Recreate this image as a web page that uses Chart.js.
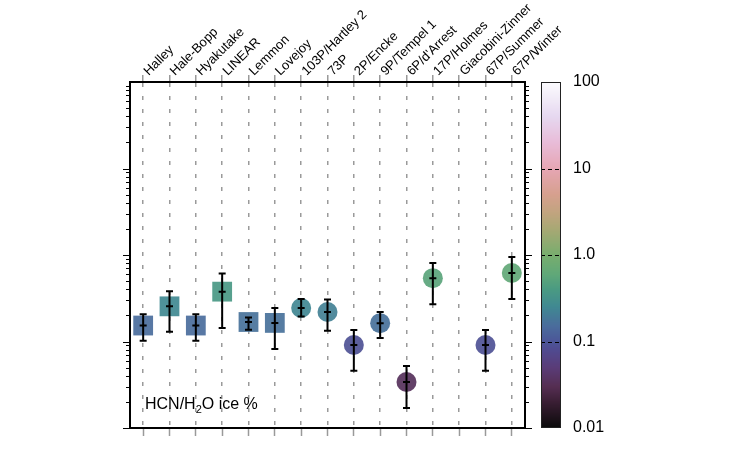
<!DOCTYPE html>
<html>
<head>
<meta charset="utf-8">
<script src="https://cdn.jsdelivr.net/npm/chart.js@4"></script>
<style>
  body { margin: 0; background: #fff; }
  #wrap { width: 750px; height: 450px; }
</style>
</head>
<body>
<div id="wrap"><canvas id="hcnChart" width="750" height="450"></canvas></div>
<script>
// comets along the top axis
const comets = ['Halley', 'Hale-Bopp', 'Hyakutake', 'LINEAR', 'Lemmon', 'Lovejoy',
    '103P/Hartley 2', '73P', '2P/Encke', '9P/Tempel 1', "6P/d'Arrest", '17P/Holmes',
    'Giacobini-Zinner', '67P/Summer', '67P/Winter'];
// HCN/H2O ice %, with lower / upper error bar ends
const hcn     = [0.153, 0.255, 0.153, 0.377, 0.168, 0.164, 0.244, 0.219, 0.091, 0.163, 0.034, 0.54, null, 0.091, 0.62];
const errLow  = [0.102, 0.130, 0.102, 0.143, 0.137, 0.082, 0.195, 0.133, 0.046, 0.110, 0.017, 0.27, null, 0.046, 0.31];
const errHigh = [0.206, 0.380, 0.206, 0.610, 0.190, 0.244, 0.310, 0.305, 0.136, 0.220, 0.052, 0.81, null, 0.136, 0.95];
// first six are long-period comets (squares), rest short-period (circles)
const shapes = ['rect', 'rect', 'rect', 'rect', 'rect', 'rect',
    'circle', 'circle', 'circle', 'circle', 'circle', 'circle', 'circle', 'circle', 'circle'];
// colour bar ticks
const cbarTicks = [0.01, 0.1, 1, 10, 100];
const cbarLabels = ['0.01', '0.1', '1.0', '10', '100'];

// cubehelix-like colour map, sampled by eye from the colour bar
const cmapStops = [
    [0.01, [10, 10, 10]], [0.02, [58, 30, 52]], [0.03, [85, 46, 82]], [0.05, [90, 60, 120]],
    [0.08, [80, 74, 144]], [0.1, [76, 86, 152]], [0.15, [74, 108, 156]], [0.25, [64, 136, 146]],
    [0.4, [74, 154, 130]], [0.6, [96, 168, 120]], [1, [120, 173, 110]], [2, [168, 168, 116]],
    [3, [192, 164, 126]], [5, [214, 160, 142]], [10, [230, 166, 180]], [20, [232, 188, 216]],
    [40, [230, 216, 240]], [100, [252, 252, 254]]
];
function cmap(v, alpha) {
    const lv = Math.log10(v);
    let c = cmapStops[cmapStops.length - 1][1];
    for (let i = 0; i < cmapStops.length - 1; i++) {
        const a = Math.log10(cmapStops[i][0]), b = Math.log10(cmapStops[i + 1][0]);
        if (lv <= b) {
            const t = Math.max(0, (lv - a) / (b - a));
            c = cmapStops[i][1].map((q, k) => Math.round(q + (cmapStops[i + 1][1][k] - q) * t));
            break;
        }
    }
    return alpha == null ? `rgb(${c[0]},${c[1]},${c[2]})` : `rgba(${c[0]},${c[1]},${c[2]},${alpha})`;
}

const FONT = "'Liberation Sans', Arial, Helvetica, sans-serif";

const extras = {
    id: 'extras',
    afterDatasetsDraw(chart) {
        const ctx = chart.ctx, x = chart.scales.x, y = chart.scales.y, area = chart.chartArea;
        ctx.save();
        // error bars
        ctx.strokeStyle = '#000';
        ctx.lineWidth = 2;
        hcn.forEach((v, i) => {
            if (v == null) return;
            const px = x.getPixelForValue(i);
            const yl = y.getPixelForValue(errLow[i]);
            const yh = y.getPixelForValue(errHigh[i]);
            const yc = y.getPixelForValue(v);
            ctx.beginPath();
            ctx.moveTo(px, yl); ctx.lineTo(px, yh);
            ctx.moveTo(px - 3.5, yl); ctx.lineTo(px + 3.5, yl);
            ctx.moveTo(px - 3.5, yh); ctx.lineTo(px + 3.5, yh);
            ctx.moveTo(px - 3.5, yc); ctx.lineTo(px + 3.5, yc);
            ctx.stroke();
        });
        // log tick marks on both y sides
        ctx.lineWidth = 1;
        for (let d = 0.01; d < 99; d *= 10) {
            for (let m = 1; m <= 9; m++) {
                const py = Math.round(y.getPixelForValue(d * m)) + 0.5;
                const len = m === 1 ? 7 : 4;
                ctx.beginPath();
                ctx.moveTo(area.left - len, py); ctx.lineTo(area.left, py);
                ctx.moveTo(area.right, py); ctx.lineTo(area.right + len, py);
                ctx.stroke();
            }
        }
        // in-plot label
        ctx.fillStyle = '#000';
        ctx.textBaseline = 'alphabetic';
        ctx.font = '16px ' + FONT;
        let tx = area.left + 15;
        const ty = y.getPixelForValue(0.0165);
        ctx.fillText('HCN/H', tx, ty);
        tx += ctx.measureText('HCN/H').width;
        ctx.font = '11px ' + FONT;
        ctx.fillText('2', tx, ty + 4);
        tx += ctx.measureText('2').width;
        ctx.font = '16px ' + FONT;
        ctx.fillText('O ice %', tx, ty);
        ctx.restore();
    },
    afterDraw(chart) {
        // colour bar
        const ctx = chart.ctx, y = chart.scales.yc;
        const x0 = 541, w = 20;
        const top = Math.round(y.getPixelForValue(100)), bot = Math.round(y.getPixelForValue(0.01));
        ctx.save();
        for (let py = top; py < bot; py++) {
            ctx.fillStyle = cmap(y.getValueForPixel(py + 0.5));
            ctx.fillRect(x0, py, w, 1);
        }
        ctx.strokeStyle = '#000';
        ctx.lineWidth = 1;
        ctx.setLineDash([4, 3]);
        [0.1, 1, 10].forEach(v => {
            const py = Math.round(y.getPixelForValue(v)) + 0.5;
            ctx.beginPath();
            ctx.moveTo(x0, py); ctx.lineTo(x0 + w, py);
            ctx.stroke();
        });
        ctx.setLineDash([]);
        ctx.strokeStyle = '#222';
        ctx.strokeRect(x0 + 0.5, top + 0.5, w - 1, bot - top - 1);
        ctx.restore();
    }
};

new Chart(document.getElementById('hcnChart'), {
    type: 'line',
    data: {
        labels: comets,
        datasets: [{
            data: hcn,
            showLine: false,
            pointStyle: shapes,
            pointRadius: shapes.map(s => s === 'rect' ? 14 : 10),
            pointHoverRadius: shapes.map(s => s === 'rect' ? 14 : 10),
            pointBackgroundColor: hcn.map(v => v == null ? 'transparent' : cmap(v, 0.92)),
            pointBorderWidth: 0,
            yAxisID: 'y'
        }]
    },
    options: {
        responsive: false,
        animation: false,
        layout: { padding: 0 },
        plugins: { legend: { display: false }, tooltip: { enabled: false } },
        scales: {
            x: {
                type: 'category',
                position: 'top',
                offset: true,
                grid: {
                    color: '#9a9a9a', lineWidth: 1.5,
                    drawTicks: true, tickLength: 7, tickColor: '#9a9a9a', tickWidth: 1.5
                },
                border: { display: true, color: '#000', width: 2, dash: [4, 9] },
                ticks: {
                    autoSkip: false, minRotation: 45, maxRotation: 45, padding: -4, labelOffset: 14,
                    color: '#000', font: { family: FONT, size: 13 }
                },
                afterFit: s => { s.height = 82; s.paddingLeft = 0; s.paddingRight = 0; }
            },
            xb: {
                type: 'category',
                position: 'bottom',
                offset: true,
                labels: comets,
                grid: {
                    drawOnChartArea: false, drawTicks: true, tickLength: 8,
                    tickColor: '#9a9a9a', tickWidth: 1.5
                },
                border: { display: true, color: '#000', width: 2 },
                ticks: { display: false },
                afterFit: s => { s.height = 22; }
            },
            y: {
                type: 'logarithmic',
                position: 'left',
                min: 0.01,
                max: 100,
                grid: { display: false },
                border: { display: true, color: '#000', width: 2 },
                ticks: { display: false },
                afterFit: s => { s.width = 130; }
            },
            yc: {
                type: 'logarithmic',
                position: 'right',
                min: 0.01,
                max: 100,
                grid: { display: false, drawTicks: false },
                border: { display: true, color: '#000', width: 2 },
                afterBuildTicks: s => { s.ticks = cbarTicks.map(v => ({ value: v })); },
                ticks: {
                    autoSkip: false, padding: 48, color: '#000',
                    font: { family: FONT, size: 16 },
                    callback: v => cbarLabels[cbarTicks.indexOf(v)]
                },
                afterFit: s => { s.width = 225; s.paddingTop = 0; s.paddingBottom = 0; }
            }
        }
    },
    plugins: [extras]
});
</script>
</body>
</html>
